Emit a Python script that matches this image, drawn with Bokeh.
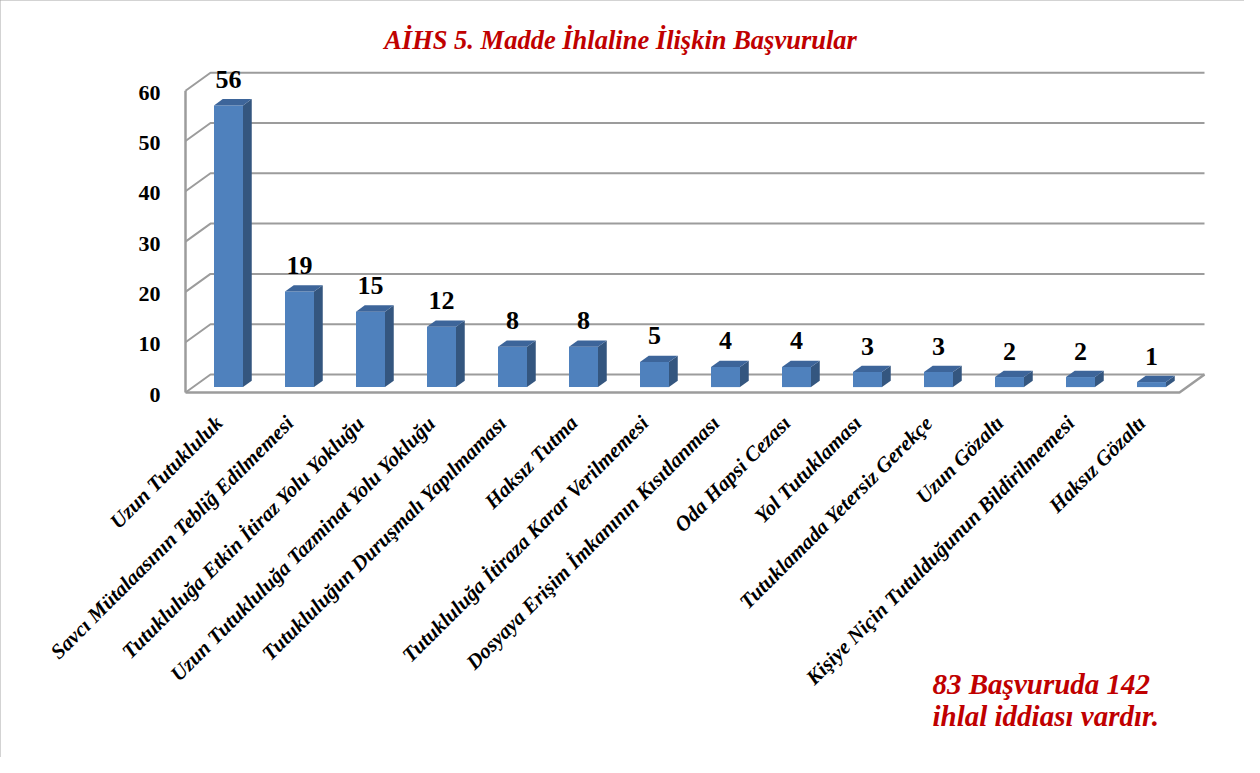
import math
from bokeh.plotting import figure
from bokeh.models import Range1d, Label
from bokeh.core.properties import value
from bokeh.embed import file_html
from bokeh.resources import INLINE

# ---------------- data ----------------
title_text = "AİHS 5. Madde İhlaline İlişkin Başvurular"
categories = [
    "Uzun Tutukluluk",
    "Savcı Mütalaasının Tebliğ Edilmemesi",
    "Tutukluluğa Etkin İtiraz Yolu Yokluğu",
    "Uzun Tutukluluğa Tazminat Yolu Yokluğu",
    "Tutukluluğun Duruşmalı Yapılmaması",
    "Haksız Tutma",
    "Tutukluluğa İtiraza Karar Verilmemesi",
    "Dosyaya Erişim İmkanının Kısıtlanması",
    "Oda Hapsi Cezası",
    "Yol Tutuklaması",
    "Tutuklamada Yetersiz Gerekçe",
    "Uzun Gözaltı",
    "Kişiye Niçin Tutulduğunun Bildirilmemesi",
    "Haksız Gözaltı",
]
counts = [56, 19, 15, 12, 8, 8, 5, 4, 4, 3, 3, 2, 2, 1]
y_ticks = [0, 10, 20, 30, 40, 50, 60]
note_lines = ["83 Başvuruda 142", "ihlal iddiası vardır."]

# ---------------- layout / style constants ----------------
FONT = "Liberation Serif"
RED = "#C00000"
GRID = "#9C9C9C"
FRONT = "#4F81BD"
SIDE = "#34567F"
TOP = "#3D659A"

PX_X = 71.0       # pixels per category
PX_Y = 5.03       # pixels per value unit
DX = 25.0 / PX_X  # depth offset (x) of the 3D box
DY = 18.0 / PX_Y  # depth offset (y) of the 3D box
Z0, Z1 = 0.30, 0.65  # bar depth span (fraction of box depth)
BW = 29.0 / PX_X     # bar front width

n = len(categories)
left_wall = -0.5
right_wall = n - 0.5

W, H = 1244, 757
FRAME_L, FRAME_R, FRAME_T, FRAME_B = 8, 8 + W, 8, 8 + H   # page pixels
ZERO_PX, WALL_PX = 400, 193
x0 = left_wall - (WALL_PX - FRAME_L) / PX_X
x1 = x0 + (FRAME_R - FRAME_L) / PX_X
y0 = -(FRAME_B - ZERO_PX) / PX_Y
y1 = (ZERO_PX - FRAME_T) / PX_Y

p = figure(width=W, height=H, x_range=Range1d(x0, x1), y_range=Range1d(y0, y1),
           output_backend="svg", toolbar_location=None,
           x_axis_location=None, y_axis_location=None,
           min_border=0)
p.styles = {"outline": "2px solid #A6A6A6", "outline-offset": "-2px"}
p.background_fill_color = "white"
p.border_fill_color = "white"
p.outline_line_color = None
p.xgrid.visible = False
p.ygrid.visible = False

# ---------------- walls / gridlines ----------------
gx, gy = [], []
for v in y_ticks:
    gx.append([left_wall, left_wall + DX, right_wall + DX])
    gy.append([v, v + DY, v + DY])
p.multi_line(gx, gy, line_color=GRID, line_width=2)
p.multi_line([[left_wall, left_wall], [left_wall, right_wall, right_wall + DX]],
             [[0, max(y_ticks)], [0, 0, DY]], line_color=GRID, line_width=2.5)

# value-axis tick labels
p.text(x=[left_wall] * len(y_ticks), y=y_ticks, text=[str(v) for v in y_ticks],
       text_align="right", text_baseline="middle", x_offset=-25, y_offset=2,
       text_font=value(FONT), text_font_style="bold", text_font_size="22px",
       text_color="black")

# ---------------- bars ----------------
xs_front = [i + Z0 * DX for i in range(n)]
lefts = [x - BW / 2 for x in xs_front]
rights = [x + BW / 2 for x in xs_front]
base = Z0 * DY
tops = [c + Z0 * DY for c in counts]
ddx = (Z1 - Z0) * DX
ddy = (Z1 - Z0) * DY

p.quad(left=lefts, right=rights, bottom=[base] * n, top=tops,
       fill_color=FRONT, line_color=None)
side_x = [[r, r + ddx, r + ddx, r] for r in rights]
side_y = [[base, base + ddy, t + ddy, t] for t in tops]
p.patches(side_x, side_y, fill_color=SIDE, line_color=None)
top_x = [[l, r, r + ddx, l + ddx] for l, r in zip(lefts, rights)]
top_y = [[t, t, t + ddy, t + ddy] for t in tops]
p.patches(top_x, top_y, fill_color=TOP, line_color=None)

# value labels
p.text(x=xs_front, y=tops, text=[str(c) for c in counts],
       text_align="center", text_baseline="alphabetic", y_offset=-26,
       text_font=value(FONT), text_font_style="bold", text_font_size="26px",
       text_color="black")

# category labels (rotated, ending under each category)
p.text(x=list(range(n)), y=[0] * n, text=categories, angle=math.pi / 4,
       text_align="right", text_baseline="middle", x_offset=-2, y_offset=27,
       text_font=value(FONT), text_font_style="bold italic", text_font_size="21px",
       text_color="black")

# ---------------- title & note ----------------
p.add_layout(Label(x=628 - FRAME_L, y=FRAME_B - 47, x_units="screen", y_units="screen",
                   text=title_text, text_align="center", text_baseline="alphabetic",
                   text_font=FONT, text_font_style="bold italic", text_font_size="26.5px",
                   text_color=RED))
for k, line in enumerate(note_lines):
    p.add_layout(Label(x=940 - FRAME_L, y=FRAME_B - (691 + 32 * k), x_units="screen", y_units="screen",
                       text=line, text_align="left", text_baseline="alphabetic",
                       text_font=FONT, text_font_style="bold italic", text_font_size="29px",
                       text_color=RED))

open("out.html", "w").write(file_html(p, INLINE))
